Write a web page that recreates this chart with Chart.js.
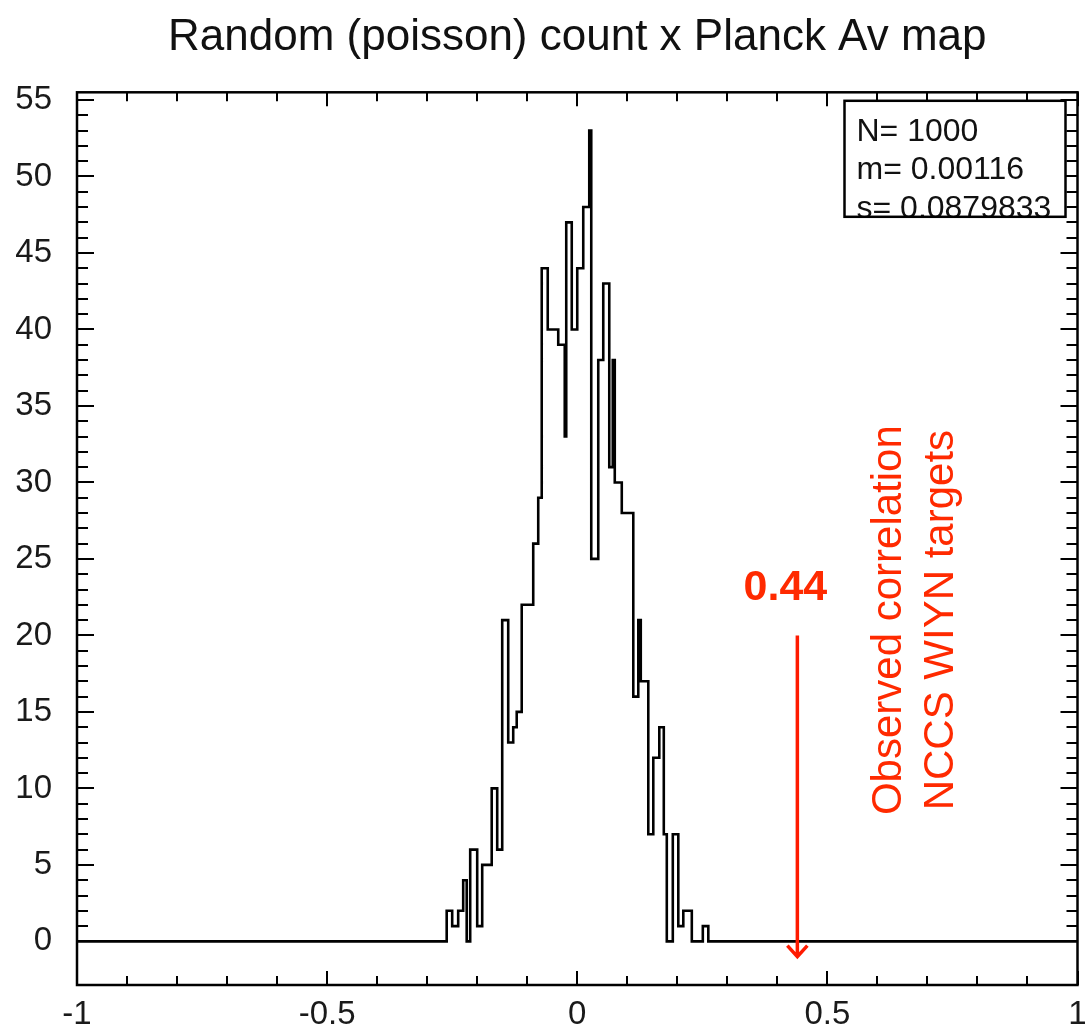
<!DOCTYPE html>
<html>
<head>
<meta charset="utf-8">
<script src="https://cdn.jsdelivr.net/npm/chart.js@4/dist/chart.umd.min.js"></script>
<style>
  html, body { margin: 0; padding: 0; background: #fff; }
  #wrap { width: 1085px; height: 1035px; }
</style>
</head>
<body>
<div id="wrap"><canvas id="histChart" width="1085" height="1035"></canvas></div>
<script>
// left edge of each step and the count held until the next edge
const binEdges = [-1, -0.261, -0.250, -0.238, -0.228, -0.221, -0.214, -0.200, -0.190, -0.171,
  -0.160, -0.150, -0.138, -0.128, -0.121, -0.111, -0.088, -0.078, -0.071, -0.059,
  -0.038, -0.025, -0.022, -0.011, 0.000, 0.012, 0.024, 0.028, 0.042, 0.052,
  0.064, 0.071, 0.075, 0.089, 0.112, 0.122, 0.127, 0.142, 0.152, 0.164,
  0.173, 0.179, 0.191, 0.202, 0.212, 0.229, 0.251, 0.262, 1];
const counts = [0, 2, 1, 2, 4, 0, 6, 1, 5, 10,
  6, 21, 13, 14, 15, 22, 26, 29, 44, 40,
  39, 33, 47, 40, 44, 48, 53, 25, 38, 43,
  31, 38, 30, 28, 16, 21, 17, 7, 12, 14,
  7, 0, 7, 1, 2, 0, 1, 0, 0];

const xTicks = [-1, -0.5, 0, 0.5, 1];
const yTicks = [0, 5, 10, 15, 20, 25, 30, 35, 40, 45, 50, 55];
const statsLines = ['N= 1000', 'm= 0.00116', 's= 0.0879833'];
const observedValue = 0.44;
const observedLabel = '0.44';
const observedText = ['Observed correlation', 'NCCS WIYN targets'];

const points = binEdges.map((x, i) => ({ x: x, y: counts[i] }));

const frame = {
  id: 'frame',
  afterDraw(chart) {
    const c = chart.ctx;
    const a = chart.chartArea;
    const sx = chart.scales.x;
    const sy = chart.scales.y;
    c.save();
    c.strokeStyle = '#000';
    c.lineWidth = 2.5;
    c.strokeRect(a.left, a.top, a.right - a.left, a.bottom - a.top);

    // minor / major ticks drawn inward on all four sides
    c.lineWidth = 2;
    c.beginPath();
    for (let i = -10; i <= 10; i++) {
      const px = Math.round(sx.getPixelForValue(i / 10));
      const len = (i % 5 === 0) ? 14 : 9;
      c.moveTo(px, a.bottom); c.lineTo(px, a.bottom - len);
      c.moveTo(px, a.top); c.lineTo(px, a.top + len);
    }
    for (let v = 0; v <= 55; v++) {
      const py = Math.round(sy.getPixelForValue(v));
      const len = (v % 5 === 0) ? 17 : 11;
      c.moveTo(a.left, py); c.lineTo(a.left + len, py);
      c.moveTo(a.right, py); c.lineTo(a.right - len, py);
    }
    c.stroke();

    // stats box
    const bx = a.right - 233, by = a.top + 8.5, bw = 221, bh = 116;
    c.fillStyle = '#fff';
    c.fillRect(bx, by, bw, bh);
    c.font = '32px "Liberation Sans", Arial, sans-serif';
    c.fillStyle = '#111';
    c.textBaseline = 'alphabetic';
    c.textAlign = 'left';
    statsLines.forEach((t, i) => c.fillText(t, bx + 12, by + 40 + i * 38.5));
    c.lineWidth = 2.5;
    c.strokeRect(bx, by, bw, bh);

    // observed value arrow
    const ax = sx.getPixelForValue(observedValue);
    const aTop = sy.getPixelForValue(20);
    const aTip = sy.getPixelForValue(-1);
    c.strokeStyle = '#ff1a00';
    c.lineWidth = 3.5;
    c.beginPath();
    c.moveTo(ax, aTop); c.lineTo(ax, aTip);
    c.moveTo(ax - 10, aTip - 11); c.lineTo(ax, aTip); c.lineTo(ax + 10, aTip - 11);
    c.stroke();

    c.fillStyle = '#ff2a00';
    c.font = 'bold 43px "Liberation Sans", Arial, sans-serif';
    c.textAlign = 'center';
    c.fillText(observedLabel, ax - 12, sy.getPixelForValue(22.3));

    c.font = '42px "Liberation Sans", Arial, sans-serif';
    c.translate(sx.getPixelForValue(0.625), sy.getPixelForValue(21));
    c.rotate(-Math.PI / 2);
    c.textBaseline = 'middle';
    observedText.forEach((t, i) => c.fillText(t, 0, i * 52));
    c.restore();
  }
};

const ctx = document.getElementById('histChart').getContext('2d');
const histChart = new Chart(ctx,
  {
    type: 'line',
    data:
    {
      datasets:
        [{
          data: points,
          stepped: 'before',
          borderColor: '#000000',
          borderWidth: 2.6,
          pointRadius: 0,
          fill: false,
        }]
    },
    options:
    {
      responsive: false,
      animation: false,
      layout: { padding: { left: 0, right: 7.5, top: 0, bottom: 0 } },
      scales:
      {
        x:
        {
          type: 'linear',
          min: -1,
          max: 1,
          grid: { display: false },
          border: { display: false },
          afterBuildTicks: (scale) => { scale.ticks = xTicks.map(v => ({ value: v })); },
          afterFit: (scale) => { scale.height = 50; scale.paddingLeft = 0; scale.paddingRight = 0; },
          ticks:
          {
            padding: 2,
            color: '#1a1a1a',
            maxRotation: 0,
            autoSkip: false,
            callback: (v) => String(v),
            font: { family: '"Liberation Sans", sans-serif', size: 33 }
          }
        },
        y:
        {
          type: 'linear',
          min: -2.85,
          max: 55.5,
          grid: { display: false },
          border: { display: false },
          afterBuildTicks: (scale) => { scale.ticks = yTicks.map(v => ({ value: v })); },
          afterFit: (scale) => { scale.width = 77; scale.paddingTop = 0; scale.paddingBottom = 0; },
          ticks:
          {
            padding: 17,
            color: '#1a1a1a',
            font: { family: '"Liberation Sans", sans-serif', size: 33 }
          }
        }
      },
      plugins:
      {
        legend: { display: false },
        tooltip: { enabled: false },
        title:
        {
          display: true,
          fullSize: false,
          text: 'Random (poisson) count x Planck Av map',
          color: '#111',
          font: { family: '"Liberation Sans", Arial, sans-serif', size: 44, weight: 'normal' },
          padding: { top: 11, bottom: 28.5 }
        }
      }
    },
    plugins: [frame]
  });
</script>
</body>
</html>
